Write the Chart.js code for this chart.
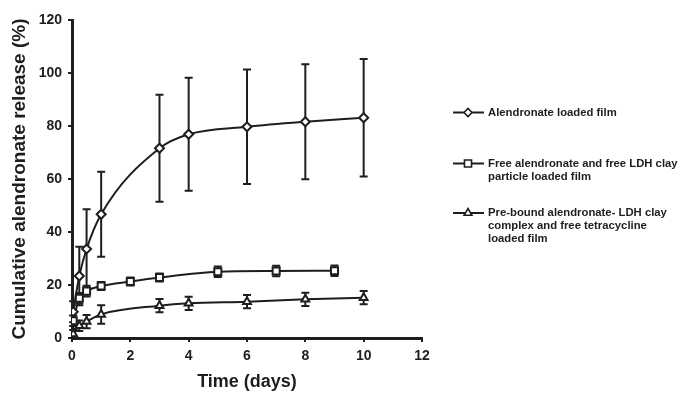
<!DOCTYPE html>
<html>
<head>
<meta charset="utf-8">
<script src="https://cdn.jsdelivr.net/npm/chart.js@4/dist/chart.umd.min.js"></script>
<style>
  html, body { margin: 0; padding: 0; background: #fff; }
  #wrap { width: 681px; height: 397px; position: relative; }
</style>
</head>
<body>
<div id="wrap"><canvas id="release"></canvas></div>
<script>
// release time points (days)
const daysFilm = [0.04, 0.25, 0.5, 1, 3, 4, 6, 8, 10];
const daysFree = [0.04, 0.25, 0.5, 1, 2, 3, 5, 7, 9];
const daysBound = [0.04, 0.25, 0.5, 1, 3, 4, 6, 8, 10];

// cumulative release (%) and standard deviation
const filmRelease = [9.9, 23.4, 33.6, 46.7, 71.6, 76.9, 79.7, 81.6, 83.1];
const filmSd = [4, 11, 15, 16, 20.2, 21.3, 21.6, 21.7, 22.2];
const freeRelease = [6.5, 15, 17.7, 19.6, 21.3, 22.8, 25.0, 25.3, 25.4];
const freeSd = [2, 2, 2, 1.5, 1.5, 1.5, 2, 2, 2];
const boundRelease = [1.5, 4.6, 6.2, 8.9, 12.2, 13.1, 13.7, 14.6, 15.2];
const boundSd = [1.5, 2, 2.5, 3.5, 2.5, 2.5, 2.5, 2.5, 2.5];

const seriesNames = [
  ['Alendronate loaded film'],
  ['Free alendronate and free LDH clay', 'particle loaded film'],
  ['Pre-bound alendronate- LDH clay', 'complex and free tetracycline', 'loaded film']
];

const ink = '#1e1e1e';
const fontFamily = '"Liberation Sans", Arial, sans-serif';

function toPoints(xs, ys) {
  return xs.map((x, i) => ({ x: x, y: ys[i] }));
}

// vertical error bars with caps, drawn under the line markers
const errorBars = {
  id: 'errorBars',
  beforeDatasetsDraw(chart) {
    const ctx = chart.ctx;
    const xs = chart.scales.x, ys = chart.scales.y;
    ctx.save();
    ctx.strokeStyle = ink;
    ctx.lineWidth = 2;
    chart.data.datasets.forEach(ds => {
      ds.data.forEach((p, i) => {
        const sd = ds.sd[i];
        const px = xs.getPixelForValue(p.x);
        const top = ys.getPixelForValue(p.y + sd);
        const bot = ys.getPixelForValue(p.y - sd);
        ctx.beginPath();
        ctx.moveTo(px, top); ctx.lineTo(px, bot);
        ctx.moveTo(px - 4, top); ctx.lineTo(px + 4, top);
        ctx.moveTo(px - 4, bot); ctx.lineTo(px + 4, bot);
        ctx.stroke();
      });
    });
    ctx.restore();
  }
};

// legend on the right, marker line plus wrapped bold text
const sideLegend = {
  id: 'sideLegend',
  afterDraw(chart) {
    const ctx = chart.ctx;
    const rows = [112.5, 163.5, 213];
    ctx.save();
    ctx.font = 'bold 11.3px ' + fontFamily;
    ctx.textBaseline = 'middle';
    chart.data.datasets.forEach((ds, k) => {
      const y = rows[k];
      ctx.strokeStyle = ink;
      ctx.lineWidth = 2;
      ctx.beginPath();
      ctx.moveTo(453, y); ctx.lineTo(484, y);
      ctx.stroke();
      ctx.fillStyle = '#fff';
      ctx.lineWidth = 1.6;
      Chart.helpers.drawPoint(ctx, {
        pointStyle: ds.pointStyle, radius: ds.legendRadius, borderWidth: 1.6
      }, 468, y);
      ctx.fillStyle = ink;
      seriesNames[k].forEach((line, j) => ctx.fillText(line, 488, y + j * 13));
    });
    ctx.restore();
  }
};

const lineStyle = {
  borderColor: ink,
  borderWidth: 2,
  pointBackgroundColor: '#fff',
  pointBorderColor: ink,
  pointBorderWidth: 2,
  cubicInterpolationMode: 'monotone',
  fill: false
};

new Chart(document.getElementById('release'), {
  type: 'line',
  data: {
    datasets: [
      Object.assign({}, lineStyle, {
        label: seriesNames[0].join(' '), data: toPoints(daysFilm, filmRelease), sd: filmSd,
        pointStyle: 'rectRot', pointRadius: 4.5, legendRadius: 4
      }),
      Object.assign({}, lineStyle, {
        label: seriesNames[1].join(' '), data: toPoints(daysFree, freeRelease), sd: freeSd,
        pointStyle: 'rect', pointRadius: 5, legendRadius: 5
      }),
      Object.assign({}, lineStyle, {
        label: seriesNames[2].join(' '), data: toPoints(daysBound, boundRelease), sd: boundSd,
        pointStyle: 'triangle', pointRadius: 4.5, legendRadius: 4.5
      })
    ]
  },
  options: {
    responsive: true,
    maintainAspectRatio: false,
    animation: false,
    layout: { padding: { top: 20, right: 259, left: 0, bottom: 0 } },
    plugins: { legend: { display: false }, tooltip: { enabled: false } },
    scales: {
      x: {
        type: 'linear', min: 0, max: 12,
        afterFit: s => { s.height = 59; },
        ticks: { stepSize: 2, color: ink, padding: 6, font: { family: fontFamily, size: 14, weight: 'bold' } },
        grid: { drawOnChartArea: false, drawTicks: true, tickLength: 4, color: ink, lineWidth: 2 },
        border: { color: ink, width: 3 },
        title: { display: true, text: 'Time (days)', color: ink, padding: { top: 6 }, font: { family: fontFamily, size: 18, weight: 'bold' } }
      },
      y: {
        min: 0, max: 120,
        afterFit: s => { s.width = 72; },
        ticks: { stepSize: 20, color: ink, padding: 6, font: { family: fontFamily, size: 14, weight: 'bold' } },
        grid: { drawOnChartArea: false, drawTicks: true, tickLength: 4, color: ink, lineWidth: 2 },
        border: { color: ink, width: 3 },
        title: { display: true, text: 'Cumulative alendronate release (%)', color: ink, padding: { top: 8, bottom: 0 }, font: { family: fontFamily, size: 19, weight: 'bold' } }
      }
    }
  },
  plugins: [errorBars, sideLegend]
});
</script>
</body>
</html>
